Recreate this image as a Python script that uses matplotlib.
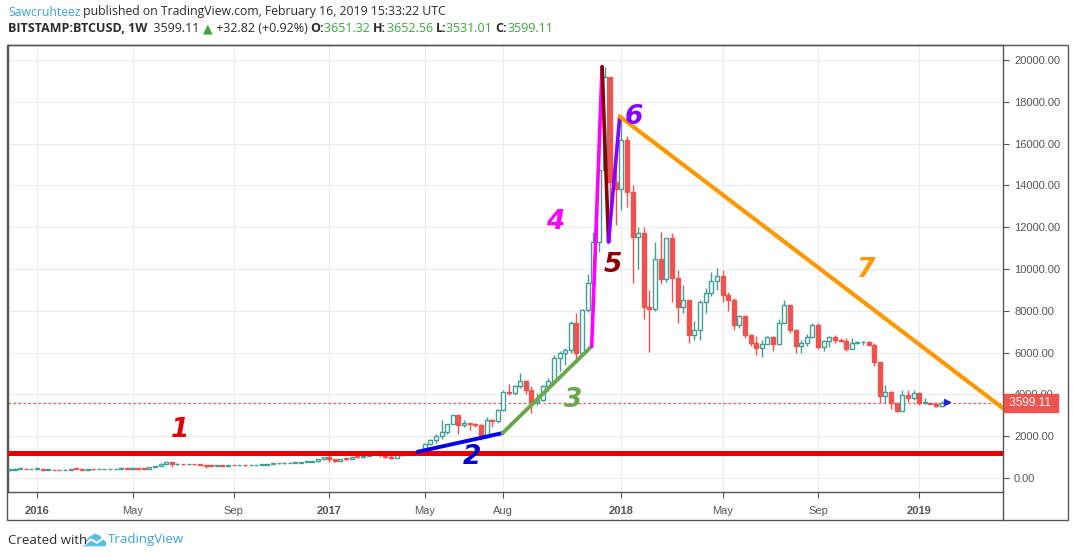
import matplotlib
matplotlib.use("Agg")
import matplotlib.pyplot as plt
import matplotlib.dates as mdates
import matplotlib.transforms as mtransforms
from matplotlib.patches import Rectangle, Polygon
from matplotlib.lines import Line2D
import pandas as pd

W, H = 1073, 557

# weekly BITSTAMP:BTCUSD candles, week starting 2015-11-30
FIRST_OPEN = 377
LAST_OPEN = 3651.32
closes = [395, 434, 440, 422, 434, 448, 388, 402, 376, 375, 406, 438, 433, 405, 412, 411, 417, 419, 420, 429,
          459, 444, 458, 454, 443, 528, 572, 685, 763, 663, 665, 650, 665, 656, 624, 588, 570, 580, 572, 609,
          607, 608, 602, 610, 617, 640, 655, 700, 705, 705, 735, 735, 765, 765, 790, 890, 998, 905, 820, 920,
          915, 1010, 1000, 1050, 1150, 1265, 1230, 1025, 965, 1080, 1180, 1175, 1235, 1345, 1640, 1820, 2010, 2200, 2580, 3010,
          2540, 2630, 2560, 2550, 1960, 2775, 2750, 3250, 4100, 4070, 4400, 4640, 4210, 3640, 3750, 4380, 4640, 5740, 6000, 6120,
          7420, 5980, 8040, 9330, 11290, 14740, 19200, 14160, 13850, 16170, 13680, 11530, 11700, 8180, 8100, 10480, 9540, 11480, 9570, 8180,
          8500, 6820, 7070, 8440, 8850, 9420, 9660, 8750, 8540, 7320, 7750, 6840, 6470, 6200, 6410, 6730, 6410, 7430, 8270, 7070,
          6330, 6470, 6760, 7320, 6280, 6560, 6750, 6620, 6560, 6170, 6460, 6490, 6490, 6380, 5550, 3920, 4110, 3590, 3210, 3970,
          3830, 4070, 3590, 3590, 3560, 3450, 3566.29, 3599.11]
highs = [420, 465, 465, 455, 438, 460, 450, 420, 395, 390, 410, 445, 440, 440, 422, 420, 422, 422, 424, 432,
         465, 469, 465, 462, 457, 535, 585, 700, 780, 770, 705, 680, 680, 680, 660, 625, 600, 585, 585, 612,
         620, 612, 610, 615, 622, 645, 660, 720, 740, 745, 755, 745, 775, 780, 795, 925, 1000, 1150, 910, 930,
         930, 1035, 1065, 1065, 1200, 1280, 1330, 1260, 1110, 1095, 1210, 1220, 1245, 1350, 1680, 1850, 2100, 2775, 2600, 3020,
         2980, 2780, 2650, 2650, 2580, 2900, 2800, 3300, 4200, 4480, 4450, 5020, 4700, 4400, 4050, 4450, 4800, 5900, 6100, 6200,
         7500, 7900, 8100, 9750, 11770, 16750, 19660, 19000, 16000, 17270, 16360, 14000, 12000, 12000, 9000, 11290, 11770, 11500, 11720, 9950,
         9230, 8500, 7500, 8500, 9090, 9860, 10050, 9950, 8880, 8600, 7800, 7800, 6900, 6800, 6600, 6800, 6800, 7600, 8540, 8300,
         7150, 6600, 6900, 7400, 7400, 6600, 6800, 6850, 6700, 6700, 6700, 6550, 6550, 6550, 6450, 5550, 4450, 4150, 3600, 4210,
         4230, 4200, 4100, 3830, 3650, 3620, 3700, 3652.56]
lows = [355, 385, 430, 415, 415, 425, 360, 365, 365, 365, 372, 400, 415, 400, 398, 405, 408, 412, 415, 418,
        425, 440, 440, 440, 435, 440, 520, 570, 660, 550, 620, 605, 645, 645, 600, 480, 565, 565, 565, 565,
        600, 600, 595, 600, 605, 615, 630, 650, 690, 690, 700, 725, 730, 755, 760, 785, 880, 750, 760, 820,
        880, 915, 940, 990, 1050, 1140, 985, 950, 925, 955, 1070, 1150, 1165, 1225, 1340, 1560, 1690, 1850, 2100, 2560,
        2100, 2450, 2300, 2450, 1830, 1910, 2420, 2650, 3200, 3950, 3950, 4330, 4000, 3110, 3500, 3700, 4150, 4620, 5100, 5400,
        6000, 5500, 5850, 7950, 9000, 10800, 14500, 11300, 12100, 12820, 12970, 9330, 10000, 7600, 6030, 8000, 9300, 9400, 8420, 7420,
        7900, 6460, 6600, 6600, 7890, 8700, 9000, 8400, 7990, 7100, 7180, 6700, 6300, 5890, 5800, 6400, 6100, 6400, 7400, 6950,
        5960, 5980, 6300, 6700, 6150, 6100, 6250, 6450, 6500, 6100, 6200, 6400, 6350, 6330, 5360, 3590, 3600, 3300, 3160, 3210,
        3640, 3750, 3500, 3550, 3520, 3400, 3380, 3531.01]
weeks = pd.date_range("2015-11-30", periods=len(closes), freq="7D")
opens = [FIRST_OPEN] + closes[:-1]
opens[-1] = LAST_OPEN
last_price = 3599.11

tick_dates = ["2016-01-04", "2016-05-02", "2016-09-05", "2017-01-02", "2017-05-01",
              "2017-08-07", "2018-01-01", "2018-05-07", "2018-09-03", "2019-01-07"]
tick_labels = ["2016", "May", "Sep", "2017", "May", "Aug", "2018", "May", "Sep", "2019"]
y_ticks = [0, 2000, 4000, 6000, 8000, 10000, 12000, 14000, 16000, 18000, 20000]

# drawn trend lines (start date, end date, start price, end price)
support_level = 1200
blue_dates, blue_prices = ["2017-04-22", "2017-08-06"], [1250, 2150]
green_dates, green_prices = ["2017-08-06", "2017-11-25"], [2150, 6300]
magenta_dates, magenta_prices = ["2017-11-25", "2017-12-08"], [6300, 19680]
darkred_dates, darkred_prices = ["2017-12-08", "2017-12-16"], [19680, 11300]
purple_dates, purple_prices = ["2017-12-16", "2017-12-30"], [11300, 17300]
orange_dates, orange_prices = ["2017-12-30", "2019-04-21"], [17300, 3350]

# wave numbers
wave_labels = ["1", "2", "3", "4", "5", "6", "7"]
wave_dates = ["2016-06-30", "2017-06-29", "2017-11-02", "2017-10-11", "2017-12-21", "2018-01-16", "2018-11-02"]
wave_prices = [2300, 1000, 3730, 12250, 10190, 17270, 9950]
wave_colors = ["#e60000", "#0000cc", "#6aa84f", "#ff00ff", "#8b0000", "#8800ff", "#ff9800"]

UP = "#3f9f97"
DOWN = "#ef5350"

fig = plt.figure(figsize=(W / 100, H / 100), dpi=100)
ax = fig.add_axes([8 / W, 1 - 492 / H, (1003 - 8) / W, (492 - 45) / H])

x = mdates.date2num(weeks)
bw = 5.0
for xi, o, h, l, c in zip(x, opens, highs, lows, closes):
    col = UP if c >= o else DOWN
    ax.vlines(xi, l, h, color=col, lw=1, zorder=3)
    body = max(abs(c - o), 30)
    if c >= o:
        ax.add_patch(Rectangle((xi - bw / 2, min(o, c)), bw, body, fc="white", ec=UP, lw=1, zorder=4))
    else:
        ax.add_patch(Rectangle((xi - bw / 2, min(o, c)), bw, body, fc=DOWN, ec=DOWN, lw=1, zorder=4))

ax.axhline(last_price, color=DOWN, lw=0.9, ls=(0, (2, 2)), zorder=2)

# trend lines
ax.axhline(support_level, color="#e60000", lw=3.6, zorder=6)
for d, p, col, lw in [(blue_dates, blue_prices, "#0000ee", 2.8),
                      (green_dates, green_prices, "#6aa84f", 2.8),
                      (magenta_dates, magenta_prices, "#ff00ff", 2.6),
                      (darkred_dates, darkred_prices, "#8b0000", 2.6),
                      (purple_dates, purple_prices, "#8800ff", 2.6),
                      (orange_dates, orange_prices, "#ff9800", 3.0)]:
    ax.plot(pd.to_datetime(d), p, color=col, lw=lw, solid_capstyle="round", zorder=6)

for lab, d, p, col in zip(wave_labels, wave_dates, wave_prices, wave_colors):
    ax.text(pd.Timestamp(d), p, lab, color=col, fontsize=19, fontweight="bold", fontstyle="italic",
            ha="center", va="center", zorder=7)

# last bar flag
ax.plot(weeks[-1], 3640, marker=">", color="#2222dd", ms=4.5, zorder=8)

x0 = pd.Timestamp("2016-01-04")
ax.set_xlim(x0 - pd.Timedelta(days=36.1), x0 + pd.Timedelta(days=1203.4))
ax.set_ylim(-670, 20718)

ax.set_xticks(pd.to_datetime(tick_dates))
ax.set_xticklabels(tick_labels)
for t, lab in zip(ax.get_xticklabels(), tick_labels):
    t.set_fontweight("bold" if lab.isdigit() else "normal")
ax.set_yticks(y_ticks)
ax.set_yticklabels([f"{v:.2f}" for v in y_ticks])
ax.yaxis.tick_right()
ax.tick_params(axis="both", colors="#555555", labelsize=8, length=4, direction="out", width=0.8)
ax.tick_params(axis="y", pad=4)
ax.tick_params(axis="x", pad=6)
for lab in ax.get_xticklabels() + ax.get_yticklabels():
    lab.set_family(["Liberation Sans", "DejaVu Sans"])
    lab.set_color("#555555")
ax.grid(True, color="#e6ecf0", lw=0.8, zorder=0)
ax.set_axisbelow(True)
for s in ax.spines.values():
    s.set_color("#555555")
    s.set_linewidth(1)

# price label on axis
trans = mtransforms.blended_transform_factory(ax.transAxes, ax.transData)
ax.text(1.0035, last_price, " 3599.11 ", transform=trans, color="white", fontsize=8.5,
        family=["Liberation Sans", "DejaVu Sans"], ha="left", va="center", zorder=10, clip_on=False,
        bbox=dict(boxstyle="square,pad=0.25", fc=DOWN, ec=DOWN))

# outer frame
fig.add_artist(Rectangle((7 / W, 1 - 520 / H), (1068 - 7) / W, (520 - 45) / H, transform=fig.transFigure,
                         fill=False, ec="#555555", lw=1))
fig.add_artist(Line2D([1003 / W, 1003 / W], [1 - 520 / H, 1 - 492 / H], transform=fig.transFigure,
                      color="#555555", lw=1))

# header
renderer = fig.canvas.get_renderer()
FAM = ["Open Sans", "DejaVu Sans"]


def draw_runs(x_px, y_px, runs, target_end):
    texts = []
    size = 10
    for attempt in range(2):
        for t in texts:
            t.remove()
        texts = []
        xp = x_px
        for s, col, wt in runs:
            t = fig.text(xp / W, 1 - y_px / H, s, color=col, fontweight=wt, fontsize=size,
                         family=FAM, ha="left", va="center")
            xp += t.get_window_extent(renderer=renderer).width
            texts.append(t)
        size = size * (target_end - x_px) / (xp - x_px)
    return texts


GREEN = "#38a83c"
DARK = "#2b2b2b"
draw_runs(8, 12, [("Sawcruhteez", "#3ca3dc", "normal"),
                  (" published on TradingView.com, February 16, 2019 15:33:22 UTC", DARK, "normal")], 446)
draw_runs(8, 29, [("BITSTAMP:BTCUSD, 1W", DARK, "bold"), ("  3599.11 ", DARK, "normal"),
                  ("▲", GREEN, "normal"), (" +32.82 (+0.92%) ", DARK, "normal"),
                  ("O:", DARK, "bold"), ("3651.32 ", GREEN, "normal"),
                  ("H:", DARK, "bold"), ("3652.56 ", GREEN, "normal"),
                  ("L:", DARK, "bold"), ("3531.01 ", GREEN, "normal"),
                  ("C:", DARK, "bold"), ("3599.11", GREEN, "normal")], 556)

# footer
fig.text(8 / W, 1 - 540 / H, "Created with", color=DARK, fontsize=9.5, family=FAM, ha="left", va="center")
fig.text(108 / W, 1 - 540 / H, "TradingView", color="#3ca3dc", fontsize=9.5, family=FAM, ha="left", va="center")
lax = fig.add_axes([83 / W, 1 - 547 / H, 23 / W, 14 / H])
lax.add_patch(Polygon([(0, 0.05), (0.08, 0.4), (0.3, 0.75), (0.5, 0.95), (0.7, 0.85), (0.85, 0.6),
                       (1, 0.35), (1, 0.05)], closed=True, fc="#5bbde8", ec="none"))
lax.plot([0.08, 0.35, 0.6, 0.95], [0.2, 0.55, 0.3, 0.7], color="white", lw=1.4)
lax.set_xlim(0, 1)
lax.set_ylim(0, 1)
lax.axis("off")

fig.savefig("out.png", dpi=100)
